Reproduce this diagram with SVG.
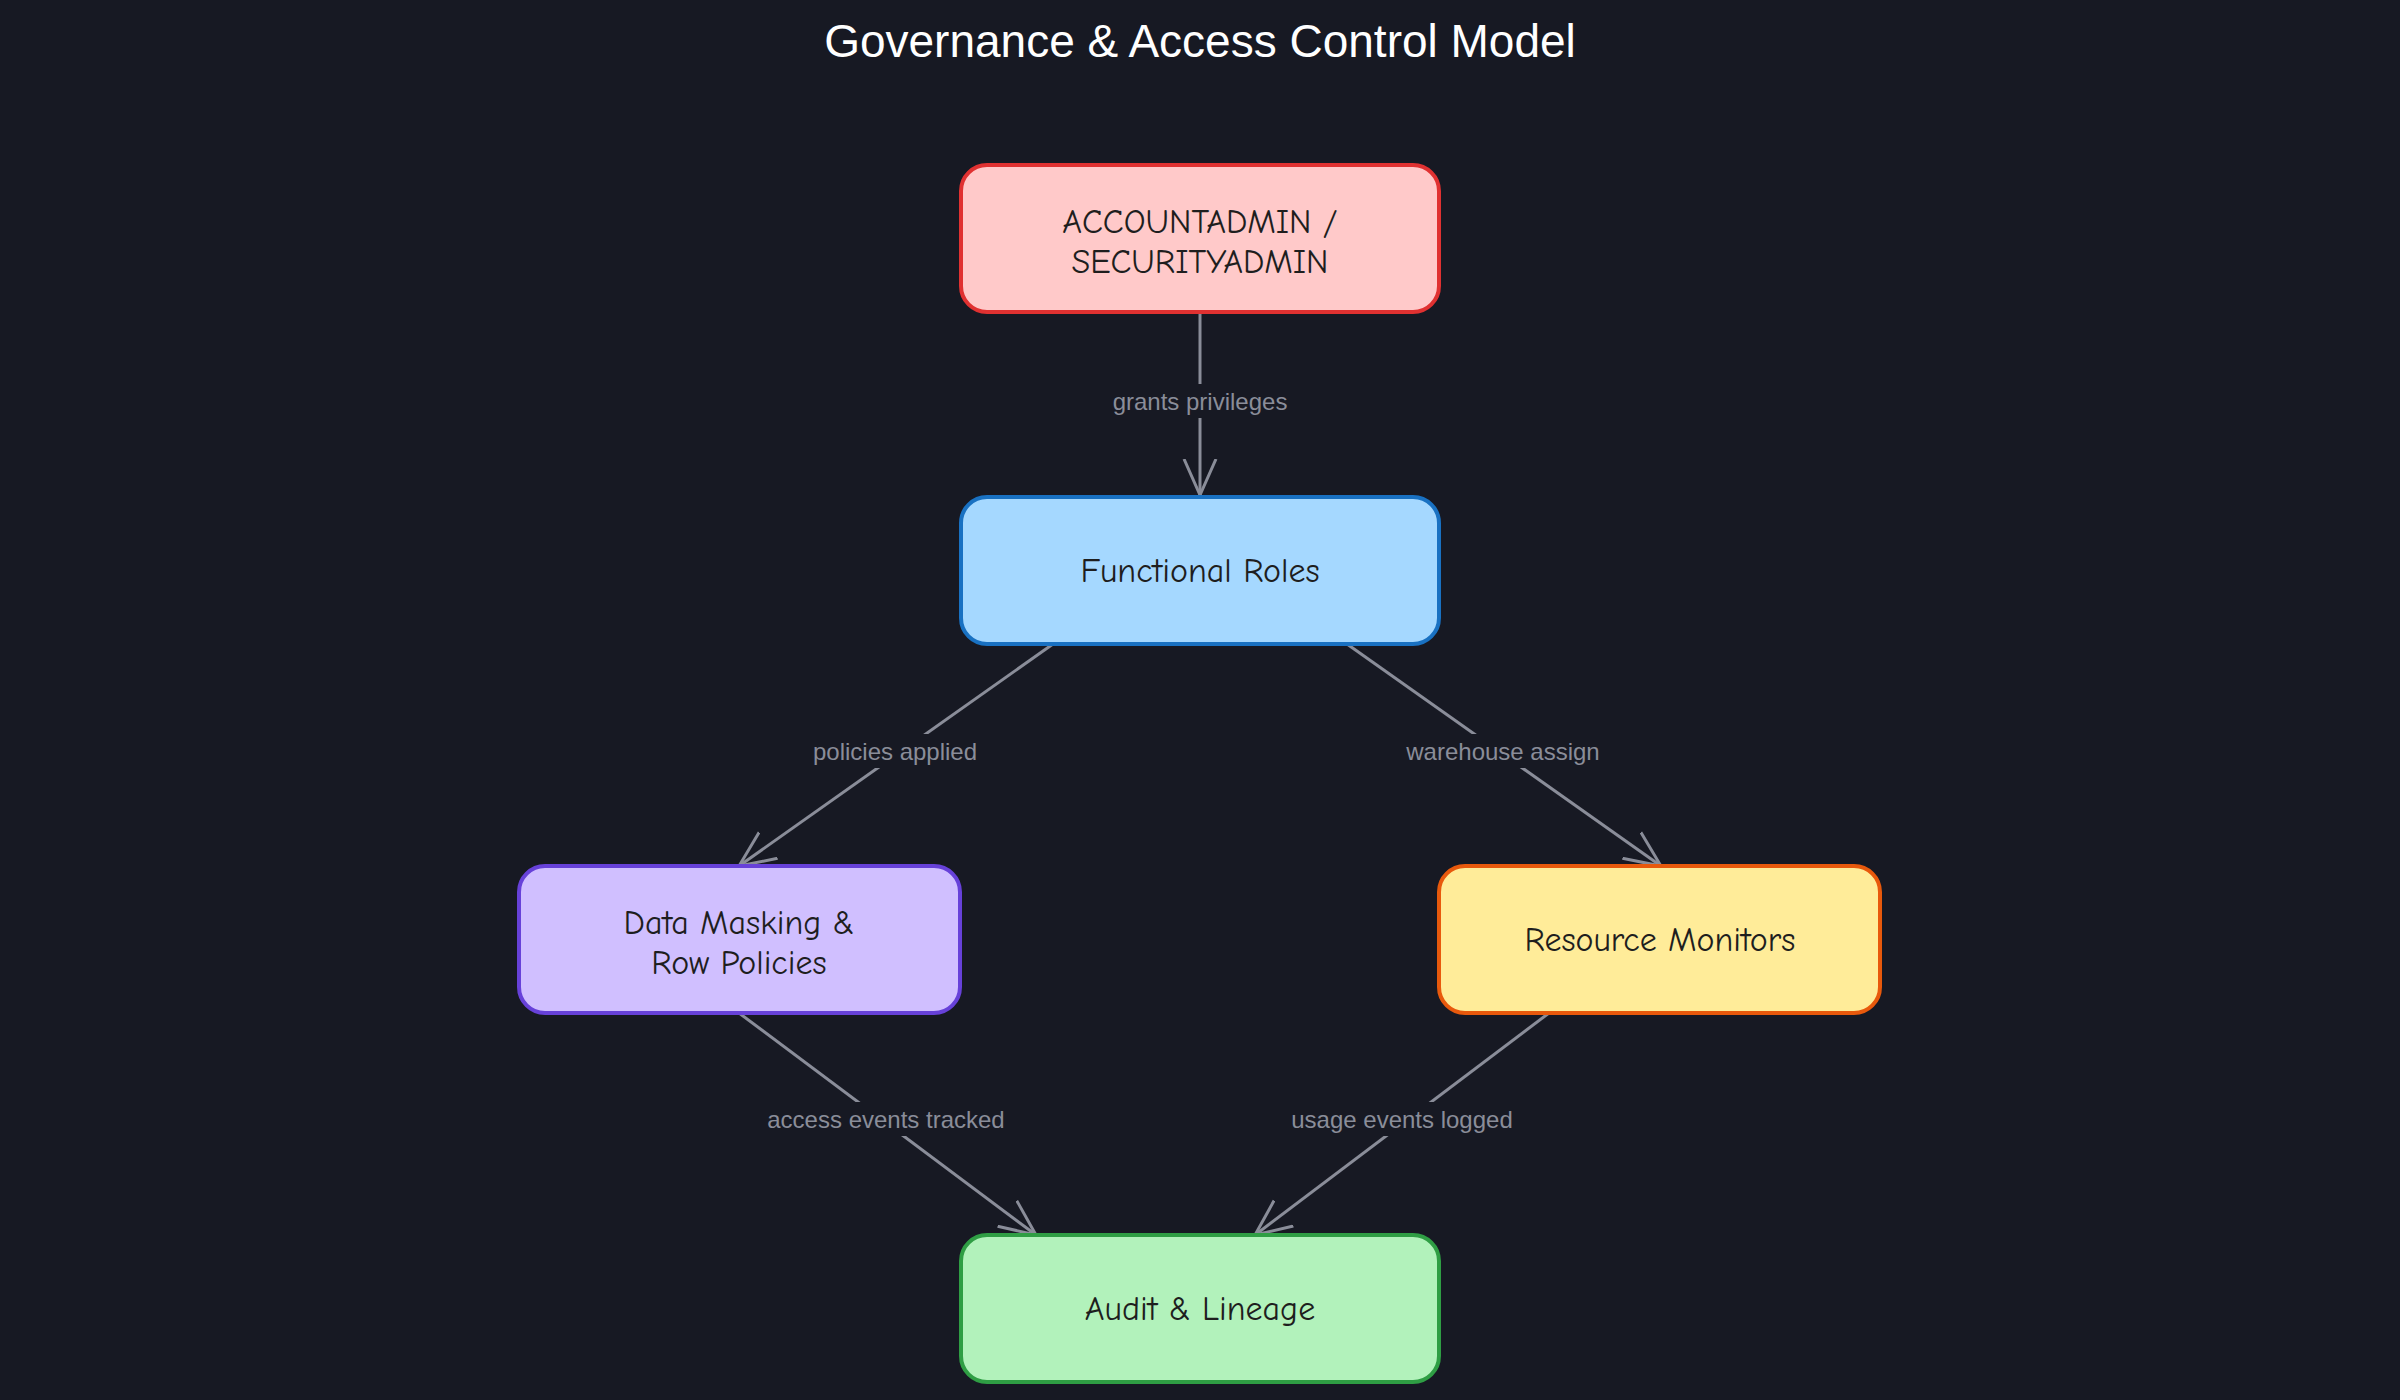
<svg xmlns="http://www.w3.org/2000/svg" width="2400" height="1400" viewBox="0 0 2400 1400">
<defs>
<style>
.n{stroke-width:4}
.t{font-family:"Comic Neue","Liberation Sans",sans-serif;font-size:34px;fill:#1e1e1e;text-anchor:middle}
.e{stroke:#8a8d99;stroke-width:3;fill:none}
.lb{fill:#171923}
.l{font-family:"Liberation Sans",sans-serif;font-size:24px;fill:#8a8d99;text-anchor:middle}
</style>
<marker id="a" viewBox="0 0 20 20" refX="18" refY="10" markerWidth="40" markerHeight="40" markerUnits="userSpaceOnUse" orient="auto">
<path d="M0,2 L18,10 L0,18" fill="none" stroke="#8a8d99" stroke-width="1.5"/>
</marker>
</defs>
<rect width="2400" height="1400" fill="#171923"/>
<text x="1200" y="57" font-family="Liberation Sans,sans-serif" font-size="46" fill="#ffffff" text-anchor="middle">Governance &amp; Access Control Model</text>
<g id="connectors">
<path class="e" d="M1200,312 L1200,495" marker-end="url(#a)"/>
<path class="e" d="M1053,644 L739,866" marker-end="url(#a)"/>
<path class="e" d="M1347,644 L1661,866" marker-end="url(#a)"/>
<path class="e" d="M739,1013 L1036,1235" marker-end="url(#a)"/>
<path class="e" d="M1549,1013 L1255,1235" marker-end="url(#a)"/>
<rect class="lb" x="1095" y="384" width="210" height="34"/><text class="l" x="1200" y="410">grants privileges</text>
<rect class="lb" x="800" y="734" width="190" height="34"/><text class="l" x="895" y="760">policies applied</text>
<rect class="lb" x="1393" y="734" width="220" height="34"/><text class="l" x="1503" y="760">warehouse assign</text>
<rect class="lb" x="736" y="1102" width="300" height="34"/><text class="l" x="886" y="1128">access events tracked</text>
<rect class="lb" x="1272" y="1102" width="260" height="34"/><text class="l" x="1402" y="1128">usage events logged</text>
</g>
<g id="admin"><rect class="n" x="961" y="165" width="478" height="147" rx="26" fill="#ffc9c9" stroke="#e03131"/>
<text class="t" x="1200" y="233">ACCOUNTADMIN /</text><text class="t" x="1200" y="273">SECURITYADMIN</text></g>
<g id="roles"><rect class="n" x="961" y="497" width="478" height="147" rx="26" fill="#a5d8ff" stroke="#1971c2"/>
<text class="t" x="1200" y="582">Functional Roles</text></g>
<g id="masking"><rect class="n" x="519" y="866" width="441" height="147" rx="26" fill="#d0bfff" stroke="#6741d9"/>
<text class="t" x="739" y="934">Data Masking &amp;</text><text class="t" x="739" y="974">Row Policies</text></g>
<g id="monitors"><rect class="n" x="1439" y="866" width="441" height="147" rx="26" fill="#ffec99" stroke="#e8590c"/>
<text class="t" x="1660" y="951">Resource Monitors</text></g>
<g id="audit"><rect class="n" x="961" y="1235" width="478" height="147" rx="26" fill="#b2f2bb" stroke="#2f9e44"/>
<text class="t" x="1200" y="1320">Audit &amp; Lineage</text></g>
</svg>
